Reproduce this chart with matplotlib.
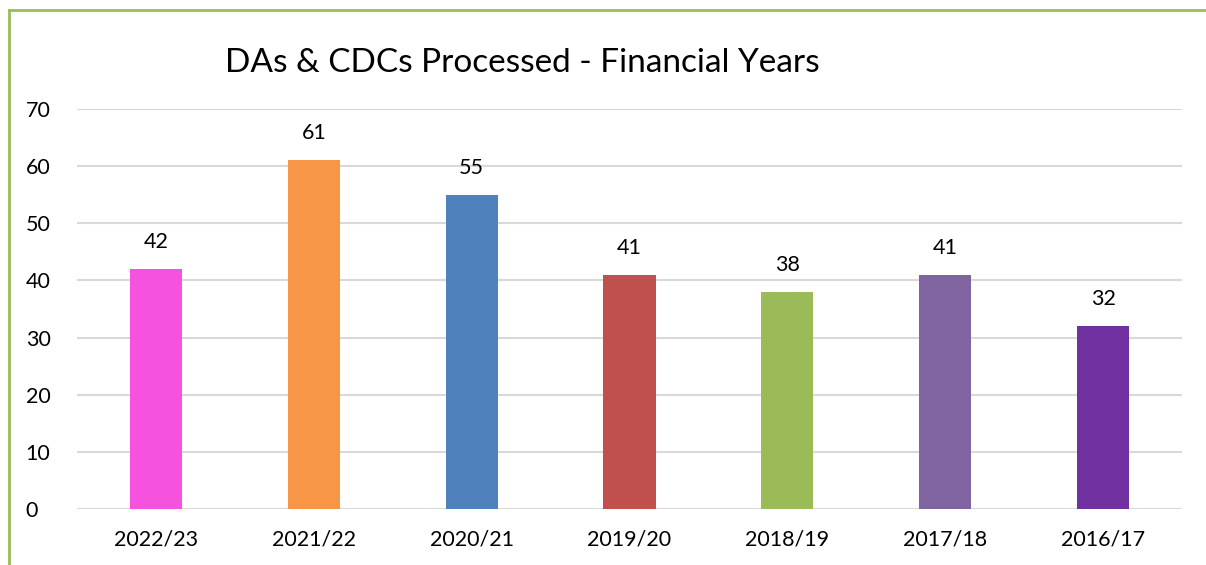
import matplotlib
matplotlib.use("Agg")
import matplotlib.pyplot as plt
from matplotlib.lines import Line2D

years = ["2022/23", "2021/22", "2020/21", "2019/20", "2018/19", "2017/18", "2016/17"]
processed = [42, 61, 55, 41, 38, 41, 32]
bar_colors = ["#F553DE", "#F79646", "#4F81BD", "#C0504D", "#9BBB59", "#8064A2", "#7030A0"]

plt.rcParams["font.family"] = ["Lato", "DejaVu Sans"]

fig = plt.figure(figsize=(12.06, 5.65), dpi=100)
ax = fig.add_axes([77 / 1206, 1 - 509 / 565, (1182 - 77) / 1206, 400 / 565])

x = range(len(years))
bars = ax.bar(x, processed, width=0.33, color=bar_colors, zorder=3)
for b, v in zip(bars, processed):
    ax.text(b.get_x() + b.get_width() / 2, v + 3.0, str(v),
            ha="center", va="bottom", fontsize=15.5)

ax.set_xlim(-0.5, len(years) - 0.5)
ax.set_ylim(0, 70)
ax.set_yticks(range(0, 71, 10))
ax.set_xticks(list(x))
ax.set_xticklabels(years)
ax.tick_params(axis="both", length=0, labelsize=15.5)
ax.tick_params(axis="x", pad=15)
ax.tick_params(axis="y", pad=37)
for lbl in ax.get_yticklabels():
    lbl.set_horizontalalignment("left")
ax.grid(axis="y", color="#D9D9D9", linewidth=1.5, zorder=0)
for s in ax.spines.values():
    s.set_visible(False)

fig.text(522 / 1206, 1 - 63 / 565, "DAs & CDCs Processed - Financial Years",
         ha="center", va="center", fontsize=24)

# green frame on top and left
green = "#9BBB59"
fig.add_artist(Line2D([9 / 1206, 9 / 1206], [0, 1 - 10 / 565], color=green, lw=2,
                      transform=fig.transFigure))
fig.add_artist(Line2D([9 / 1206, 1], [1 - 10 / 565, 1 - 10 / 565], color=green, lw=2,
                      transform=fig.transFigure))

fig.savefig("out.png", dpi=100)
